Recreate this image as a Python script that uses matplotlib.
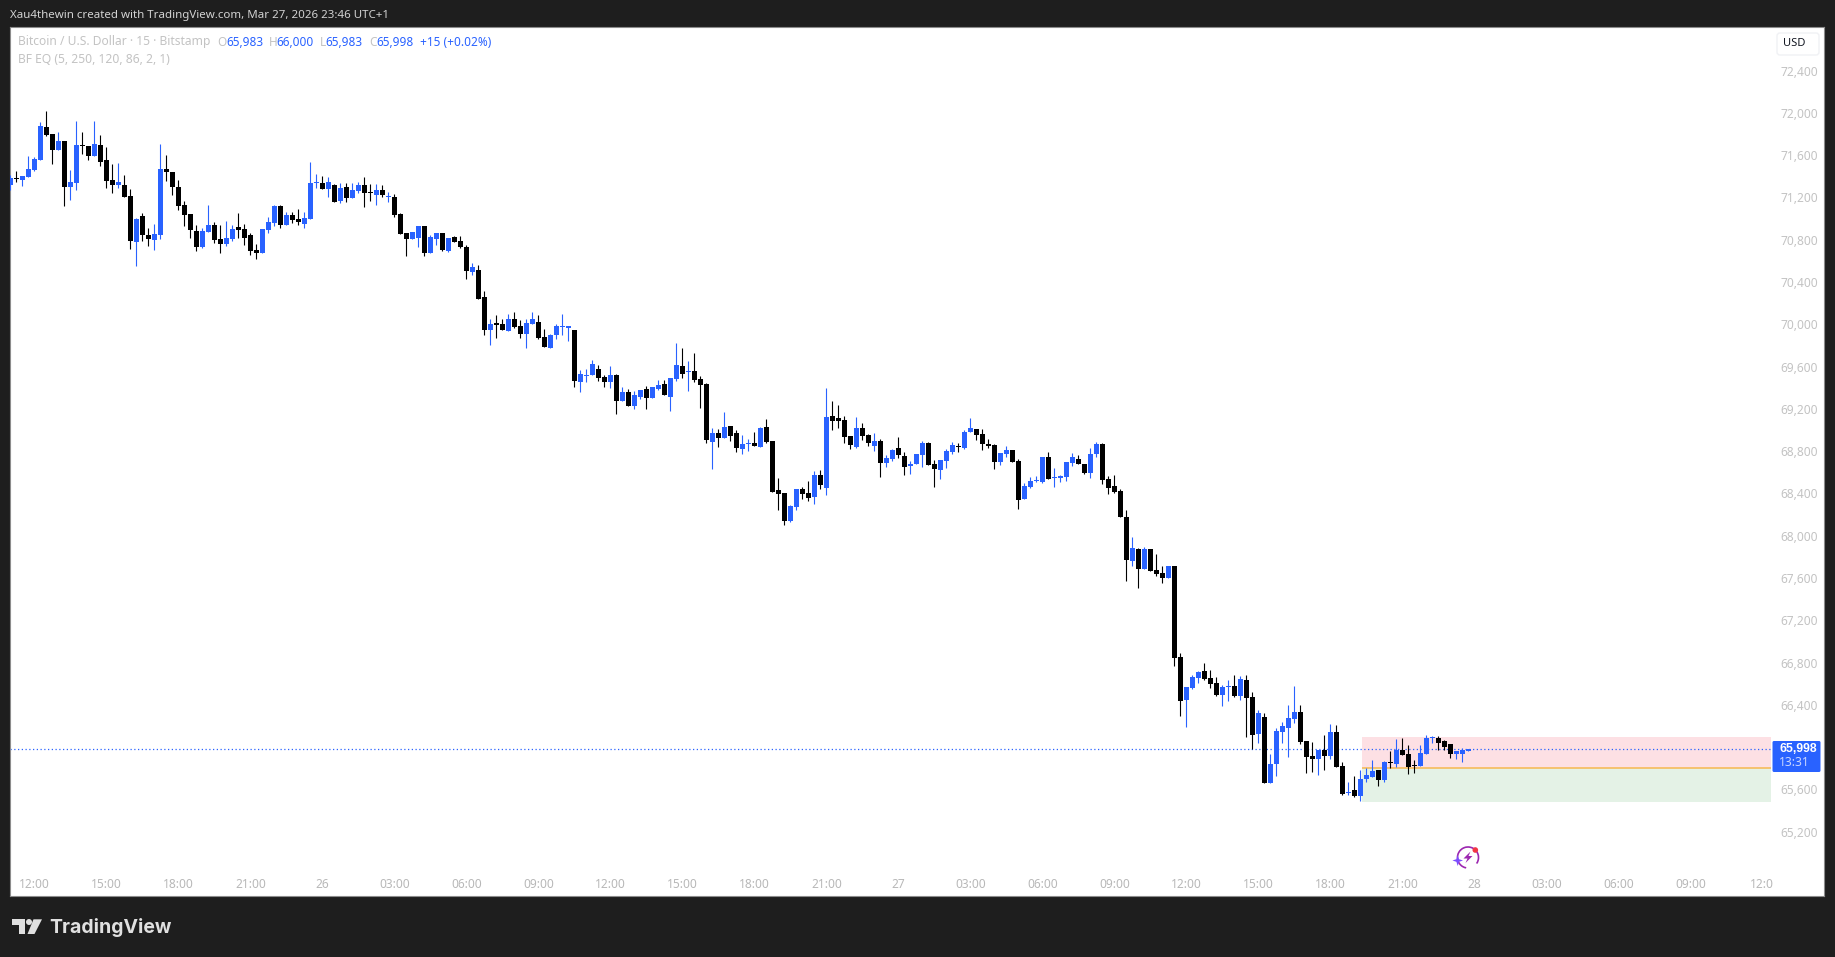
import numpy as np
import matplotlib
matplotlib.use("Agg")
import matplotlib.pyplot as plt
from matplotlib.patches import Rectangle, FancyBboxPatch, Polygon, Circle, Arc
from matplotlib.transforms import ScaledTranslation

# 15 min bars, BTC/USD Bitstamp
opens = [
    71336,71399,71383,71412,71478,71572,71885,71818,71667,71752,
    71317,71355,71714,71705,71610,71714,71572,71383,71336,71336,
    71232,70797,71043,70863,70816,70863,71487,71459,71317,71147,
    71062,70901,70749,70891,70958,70825,70778,70825,70939,70920,
    70863,70721,70693,70910,70976,71137,70958,71052,71014,70967,
    71014,71358,71355,71298,71336,71184,71317,71213,71279,71336,
    71270,71241,71289,71226,71222,71062,70882,70825,70834,70948,
    70693,70825,70882,70712,70844,70806,70749,70513,70532,70276,
    69964,70030,70021,69955,70068,70002,69926,70021,70040,69898,
    69794,69917,69996,69983,69964,69473,69529,69539,69596,69520,
    69473,69539,69293,69378,69245,69331,69406,69321,69406,69454,
    69331,69501,69624,69567,69577,69501,69454,68905,68990,68943,
    69056,68990,68839,68886,68895,68858,69047,68914,68451,68422,
    68158,68290,68460,68422,68385,68593,68470,69151,69132,69113,
    68962,68858,69037,68971,68867,68914,68706,68744,68848,68773,
    68678,68697,68782,68895,68697,68640,68725,68810,68867,68848,
    68999,69028,68980,68886,68876,68715,68791,68829,68725,68365,
    68479,68536,68526,68763,68567,68564,68574,68706,68744,68697,
    68611,68791,68886,68555,68488,68441,68195,67779,67892,67703,
    67892,67694,67665,67618,67732,66871,66464,66578,66672,66738,
    66672,66625,66511,66587,66596,66502,66653,66492,66142,66303,
    65679,65859,66161,66199,66284,66351,66076,65934,65906,65991,
    65934,66161,65840,65584,65613,65556,65717,65736,65802,65707,
    65878,65859,65991,65953,65849,65840,65953,66105,66105,66076,
    66048,65953,65953,65983]
highs = [
    71431,71469,71421,71610,71601,71932,72036,71818,71837,71752,
    71478,71941,71837,71705,71941,71809,71695,71535,71544,71431,
    71298,71024,71071,70929,70967,71724,71620,71459,71383,71185,
    71062,70958,70929,71147,70986,70958,70995,70958,71071,70967,
    70882,70778,70920,71033,71147,71147,71081,71081,71109,71081,
    71553,71440,71421,71412,71345,71355,71355,71355,71364,71412,
    71345,71345,71336,71270,71251,71071,70882,70891,70948,70948,
    70863,70882,70882,70834,70853,70853,70768,70598,70579,70333,
    70068,70106,70068,70116,70134,70059,70068,70134,70106,69974,
    69926,70021,70116,70002,69964,69586,69596,69681,69633,69539,
    69624,69548,69425,69406,69387,69397,69435,69425,69491,69491,
    69510,69841,69794,69671,69747,69529,69463,69037,69028,69189,
    69056,69018,68971,68933,69000,69047,69122,68914,68564,68422,
    68309,68460,68479,68536,68631,68640,69416,69293,69255,69151,
    68962,69141,69085,68981,68990,68933,68782,68839,68952,68810,
    68725,68791,68914,68905,68734,68734,68838,68905,68895,69018,
    69132,69028,69028,68933,68886,68801,68867,68829,68744,68517,
    68574,68583,68763,68810,68659,68592,68715,68801,68782,68697,
    68848,68905,68895,68583,68592,68460,68261,68006,67902,67911,
    67892,67845,67732,67732,67732,66909,66587,66701,66738,66814,
    66748,66682,66606,66653,66701,66691,66701,66540,66369,66341,
    65953,66199,66256,66417,66596,66417,66076,66067,65991,66133,
    66237,66228,65878,65688,65745,65802,65821,65896,65802,65887,
    65982,66095,66105,66038,65896,66038,66133,66124,66124,66086,
    66048,65982,66010,66000]
lows = [
    71289,71365,71327,71412,71469,71572,71799,71535,71667,71137,
    71194,71289,71629,71572,71610,71516,71307,71260,71307,71222,
    70730,70570,70806,70759,70721,70825,71374,71241,71099,70948,
    70835,70712,70740,70891,70787,70693,70759,70806,70835,70768,
    70674,70636,70693,70882,70948,70929,70958,70976,70958,70929,
    71014,71307,71298,71222,71175,71166,71175,71213,71260,71128,
    71184,71147,71222,71175,71033,70872,70664,70825,70749,70664,
    70693,70768,70712,70702,70797,70740,70447,70485,70257,69917,
    69822,69888,69964,69955,69983,69888,69794,70021,69879,69803,
    69794,69879,69917,69860,69425,69378,69473,69539,69482,69425,
    69416,69170,69293,69245,69217,69312,69217,69321,69397,69350,
    69198,69482,69510,69387,69473,69227,68895,68650,68858,68943,
    68914,68810,68791,68820,68867,68858,68895,68432,68262,68120,
    68148,68262,68366,68347,68318,68460,68404,69018,69037,68895,
    68839,68848,68924,68867,68820,68574,68668,68725,68754,68593,
    68602,68697,68668,68687,68479,68555,68659,68791,68810,68838,
    68999,68924,68829,68848,68649,68687,68763,68715,68271,68365,
    68469,68526,68517,68555,68479,68526,68536,68678,68697,68602,
    68564,68763,68507,68413,68422,68195,67590,67732,67523,67703,
    67684,67637,67571,67618,66786,66313,66209,66568,66625,66653,
    66578,66502,66407,66455,66492,66464,66114,66000,66057,65679,
    65679,65745,66057,65925,66246,66048,65773,65783,65754,65802,
    65906,65830,65565,65565,65546,65509,65688,65736,65650,65688,
    65821,65830,65944,65764,65773,65840,65953,66057,65991,65991,
    65915,65906,65878,65983]
closes = [
    71402,71396,71421,71487,71582,71894,71809,71667,71752,71317,
    71364,71714,71708,71610,71724,71553,71374,71336,71364,71222,
    70806,71014,70863,70825,70872,71487,71459,71317,71137,71052,
    70910,70749,70901,70958,70816,70778,70835,70920,70910,70835,
    70712,70693,70920,70986,71137,70958,71052,71005,70986,71024,
    71355,71364,71298,71364,71175,71307,71213,71289,71336,71260,
    71264,71289,71241,71232,71052,70872,70825,70891,70948,70693,
    70844,70882,70721,70834,70797,70749,70522,70560,70257,69964,
    70021,70011,69964,70068,69993,69926,70030,70068,69888,69803,
    69917,70002,70002,70002,69482,69548,69539,69643,69510,69473,
    69539,69293,69378,69245,69350,69397,69321,69425,69444,69350,
    69510,69633,69548,69577,69491,69444,68924,68990,68943,69047,
    68962,68848,68886,68895,68867,69037,68905,68432,68413,68158,
    68300,68460,68413,68375,68593,68498,69141,69104,69104,68952,
    68877,69037,68962,68895,68914,68706,68754,68829,68782,68668,
    68697,68791,68895,68687,68649,68734,68820,68876,68857,68999,
    69037,68971,68886,68867,68715,68801,68829,68715,68356,68488,
    68536,68545,68763,68555,68574,68583,68715,68763,68697,68611,
    68791,68886,68545,68469,68432,68195,67788,67902,67703,67892,
    67684,67656,67618,67732,66861,66455,66587,66682,66729,66663,
    66615,66511,66587,66596,66502,66663,66483,66133,66341,65679,
    65859,66171,66218,66294,66351,66067,65925,65906,65991,65934,
    66161,65830,65575,65594,65556,65717,65754,65792,65707,65878,
    65872,65991,65944,65830,65843,65963,66105,66114,66057,66019,
    65953,65982,65991,65998]

price_ticks = [72400,72000,71600,71200,70800,70400,70000,69600,69200,68800,
               68400,68000,67600,67200,66800,66400,65600,65200]
time_ticks = [4,16,28,40,52,64,76,88,100,112,124,136,148,160,172,184,196,208,220,232,
              244,256,268,280,292]
time_labels = ["12:00","15:00","18:00","21:00","26","03:00","06:00","09:00","12:00","15:00",
               "18:00","21:00","27","03:00","06:00","09:00","12:00","15:00","18:00","21:00",
               "28","03:00","06:00","09:00","12:0"]
last_price = 65998
zone_top = 66113
zone_mid = 65817
zone_bottom = 65502
zone_start = 225.2
zone_end = 293.4

BG = "#1e1e1e"
BLUE = "#2962ff"
GREY = "#c3c3c3"
FONT = "Noto Sans"
W, H = 1835, 957

plt.rcParams['font.family'] = [FONT, 'DejaVu Sans']

fig = plt.figure(figsize=(W/100, H/100), dpi=100, facecolor=BG)
# plot area in pixels: x 10..1824, y 27..896
ax = fig.add_axes([10/W, 1-896/H, 1814/W, 869/H], facecolor="white")
ax.set_xlim(-0.055, 302.28)
ax.set_ylim(64610, 72831)

o = np.array(opens)
h = np.array(highs)
l = np.array(lows)
c = np.array(closes)
x = np.arange(len(o))
up = c >= o
col = np.where(up, BLUE, "#000000")

ax.add_patch(Rectangle((zone_start, zone_mid), zone_end-zone_start, zone_top-zone_mid,
                       fc="#fde0e4", lw=0, zorder=1))
ax.add_patch(Rectangle((zone_start, zone_bottom), zone_end-zone_start, zone_mid-zone_bottom,
                       fc="#e4f2e6", lw=0, zorder=1))
ax.plot([zone_start, zone_end], [zone_mid, zone_mid], color="#f6bb5c", lw=1.2,
        solid_capstyle="butt", zorder=2)
ax.plot([-0.055, zone_end], [last_price, last_price], color=BLUE, lw=0.9,
        linestyle=(0, (1, 2)), zorder=2)

wicks = ax.vlines(x, l, h, colors=col, lw=0.8, zorder=3)
wicks.set_snap(True)
ax.bar(x, np.maximum(np.abs(c-o), 10), bottom=np.minimum(o, c), width=5/6, color=col, lw=0, zorder=4)

ax.yaxis.tick_right()
ax.set_yticks(price_ticks)
ax.set_yticklabels([f"{p:,}" for p in price_ticks])
ax.set_xticks(time_ticks)
ax.set_xticklabels(time_labels)
ax.tick_params(axis='y', length=0, pad=-31.5, labelsize=8.6, labelcolor=GREY)
ax.tick_params(axis='x', length=0, pad=-12.8, labelsize=8.6, labelcolor="#b8b8b8")
# the price labels sit 2 px above their level on the original
for t in ax.yaxis.get_major_ticks():
    t.label2.set_transform(t.label2.get_transform() + ScaledTranslation(0, 0.02, fig.dpi_scale_trans))
for s in ax.spines.values():
    s.set_color("#8c8c8c")
    s.set_linewidth(0.8)

# everything around the chart goes on a pixel overlay
ov = fig.add_axes([0, 0, 1, 1], zorder=5)
ov.set_xlim(0, W)
ov.set_ylim(H, 0)
ov.set_axis_off()

ov.text(10, 15.5, "Xau4thewin created with TradingView.com, Mar 27, 2026 23:46 UTC+1",
        color="#d2d2d2", fontsize=8.3, va="center", fontweight="medium")

ov.text(18, 42, "Bitcoin / U.S. Dollar · 15 · Bitstamp", color=GREY, fontsize=8.7, va="center")
ov.text(18, 59.5, "BF EQ (5, 250, 120, 86, 2, 1)", color=GREY, fontsize=8.7, va="center")
for lab, lx, val, vx in [("O", 217, "65,983", 226), ("H", 268.5, "66,000", 276.5),
                         ("L", 319.5, "65,983", 325.5), ("C", 369, "65,998", 376)]:
    ov.text(lx, 42, lab, color=GREY, fontsize=8.5, va="center")
    ov.text(vx, 42, val, color=BLUE, fontsize=8.5, va="center")
ov.text(419.5, 42, "+15 (+0.02%)", color=BLUE, fontsize=8.5, va="center")

# USD button
ov.add_patch(FancyBboxPatch((1777, 33), 42, 22, boxstyle="round,pad=0,rounding_size=3",
                            fc="white", ec="#f0f1f4", lw=1.0))
ov.text(1794, 44, "USD", color="#131722", fontsize=8.0, ha="center", va="center")

# last price label
ov.add_patch(FancyBboxPatch((1772.5, 741), 48, 31, boxstyle="round,pad=0,rounding_size=1.5",
                            fc=BLUE, lw=0))
ov.text(1798.5, 748.5, "65,998", color="white", fontsize=8.8, ha="center", va="center",
        fontweight="bold", family="Liberation Sans")
ov.text(1794, 762.5, "13:31", color="#c9d6ff", fontsize=8.8, ha="center", va="center")

# footer logo
ov.add_patch(Polygon([(12, 919.3), (25, 919.3), (25, 934), (18.7, 934), (18.7, 924.5), (12, 924.5)],
                     fc="#e0e0e0", lw=0))
ov.add_patch(Circle((29, 922), 3, fc="#e0e0e0", lw=0))
ov.add_patch(Polygon([(33.5, 919.3), (42, 919.3), (34.5, 934), (27.5, 934)], fc="#e0e0e0", lw=0))
ov.text(49.5, 927.5, "TradingView", color="#e0e0e0", fontsize=14, va="center",
        fontweight="bold", family="Inter")

# small badge icon under the last bars
ov.add_patch(Arc((1468, 857.5), 21, 21, theta1=100, theta2=35, color="#9c27b0", lw=1.2))
ov.add_patch(Polygon([(1470.5, 851.5), (1463.5, 858.5), (1467.5, 858.5), (1465.5, 863),
                      (1472.5, 856), (1468.5, 856)], fc="#9c27b0", lw=0))
ov.add_patch(Circle((1475.3, 850), 2.8, fc="#f23645", lw=0))
ov.add_patch(Polygon([(1457.7, 855), (1459, 859.2), (1463, 860.5), (1459, 861.8), (1457.7, 866),
                      (1456.4, 861.8), (1452.4, 860.5), (1456.4, 859.2)], fc="#7c4dff", lw=0))

fig.savefig("out.png", dpi=100, facecolor=BG)
